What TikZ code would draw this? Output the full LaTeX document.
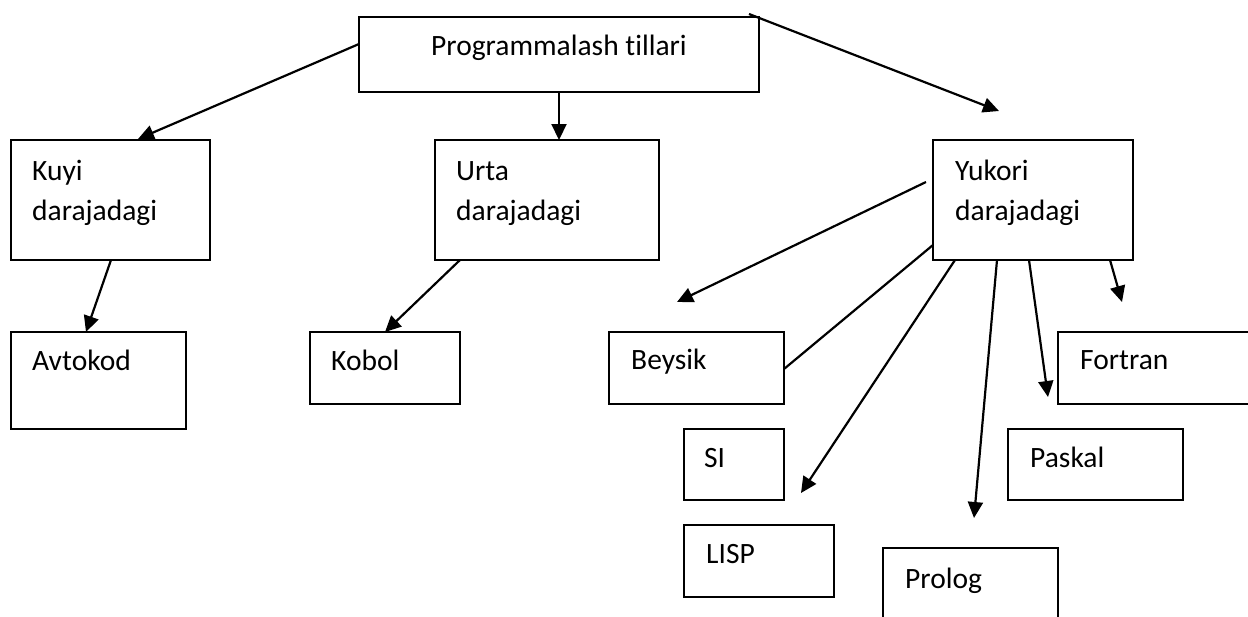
\documentclass[tikz,border=0pt]{standalone}
\usepackage{fontspec}
\setmainfont{Carlito}[Ligatures=NoCommon]
\usetikzlibrary{arrows.meta}
\begin{document}
\begin{tikzpicture}[x=1pt,y=-1pt,
  box/.style={draw, line width=1.7pt, inner sep=0pt, outer sep=0pt, anchor=north west},
  lbl/.style={font=\fontsize{29.5pt}{40pt}\selectfont, inner sep=0pt, anchor=base west, align=left},
  arr/.style={line width=2.2pt, -{Triangle[length=16pt,width=15pt]}},
  ln/.style={line width=2.2pt}]
\clip (0,0) rectangle (1248,616);
% boxes
\node[box, minimum width=400pt, minimum height=75pt]  (root) at (359,17) {};
\node[box, minimum width=199pt, minimum height=120pt] (kuyi) at (11,140) {};
\node[box, minimum width=224pt, minimum height=120pt] (urta) at (435,140) {};
\node[box, minimum width=200pt, minimum height=120pt] (yuk)  at (933,140) {};
\node[box, minimum width=175pt, minimum height=97pt]  (avt)  at (11,332) {};
\node[box, minimum width=150pt, minimum height=72pt]  (kob)  at (310,332) {};
\node[box, minimum width=175pt, minimum height=72pt]  (bey)  at (609,332) {};
\node[box, minimum width=230pt, minimum height=72pt]  (fort) at (1058,332) {};
\node[box, minimum width=100pt, minimum height=71pt]  (si)   at (684,429) {};
\node[box, minimum width=175pt, minimum height=71pt]  (pas)  at (1008,429) {};
\node[box, minimum width=150pt, minimum height=72pt]  (lisp) at (684,525) {};
\node[box, minimum width=175pt, minimum height=90pt]  (prol) at (883,548) {};
% texts (two-line labels: base is the last line)
\node[lbl, anchor=base] (troot) at (559,55) {Programmalash tillari};
\node[lbl] (tkuyi) at ([shift={(21,80)}]kuyi.north west) {Kuyi\\darajadagi};
\node[lbl] (turta) at ([shift={(21,80)}]urta.north west) {Urta\\darajadagi};
\node[lbl] (tyuk)  at ([shift={(22,80)}]yuk.north west)  {Yukori\\darajadagi};
\node[lbl] (tavt)  at ([shift={(21,38)}]avt.north west)  {Avtokod};
\node[lbl] (tkob)  at ([shift={(21,38)}]kob.north west)  {Kobol};
\node[lbl] (tbey)  at ([shift={(22,37)}]bey.north west)  {Beysik};
\node[lbl] (tfort) at ([shift={(22,37)}]fort.north west) {Fortran};
\node[lbl] (tsi)   at ([shift={(20,38)}]si.north west)   {SI};
\node[lbl] (tpas)  at ([shift={(22,38)}]pas.north west)  {Paskal};
\node[lbl] (tlisp) at ([shift={(22,38)}]lisp.north west) {LISP};
\node[lbl] (tprol) at ([shift={(22,40)}]prol.north west) {Prolog};
% free ends
\coordinate (s1) at (359,44);   \coordinate (e1) at (138,139);
\coordinate (s3) at (749,14);   \coordinate (e3) at (999,111);
\coordinate (s4) at (926,182);  \coordinate (e4) at (677,302);
\coordinate (s5) at (933,245);  \coordinate (e5) at (784,369);
\coordinate (s6) at (955,260);  \coordinate (e6) at (801,493);
\coordinate (s7) at (997,260);  \coordinate (e7) at (974,518);
\coordinate (s8) at (1029,260); \coordinate (e8) at (1048,397);
\coordinate (s9) at (1110,260); \coordinate (e9) at (1122,302);
\coordinate (s10) at (111,260); \coordinate (e10) at (86,332);
\coordinate (s11) at (460,260); \coordinate (e11) at (385,332);
% connectors
\draw[arr] (s1) -- (e1);
\draw[arr] (root.south) -- (root.south |- urta.north);
\draw[arr] (s3) -- (e3);
\draw[arr] (s4) -- (e4);
\draw[ln]  (s5) -- (e5);
\draw[arr] (s6) -- (e6);
\draw[arr] (s7) -- (e7);
\draw[arr] (s8) -- (e8);
\draw[arr] (s9) -- (e9);
\draw[arr] (s10) -- (e10);
\draw[arr] (s11) -- (e11);
\end{tikzpicture}
\end{document}
